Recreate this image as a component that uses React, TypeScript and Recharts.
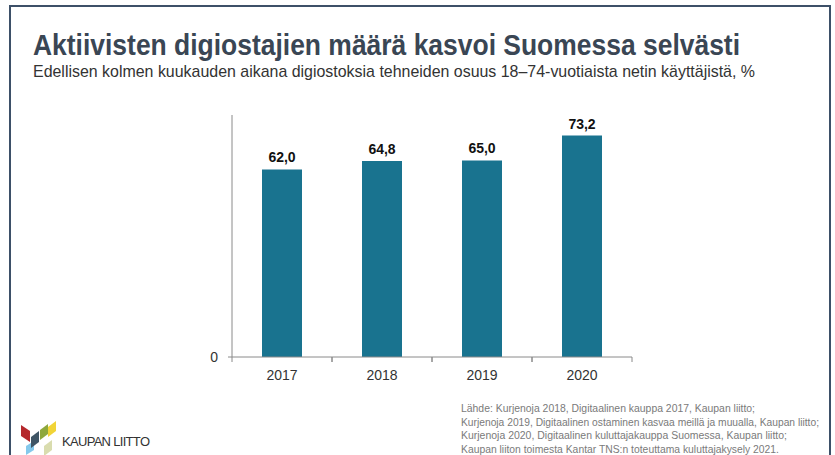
import { Bar, BarChart, LabelList, XAxis, YAxis } from "recharts";

const YEARS = ["2017", "2018", "2019", "2020"];
const SHARE = [62.0, 64.8, 65.0, 73.2];
const Y_TICKS = [0];

const TITLE = "Aktiivisten digiostajien määrä kasvoi Suomessa selvästi";
const SUBTITLE =
  "Edellisen kolmen kuukauden aikana digiostoksia tehneiden osuus 18–74-vuotiaista netin käyttäjistä, %";
const SOURCE_LINES = [
  "Lähde: Kurjenoja 2018, Digitaalinen kauppa 2017, Kaupan liitto;",
  "Kurjenoja 2019, Digitaalinen ostaminen kasvaa meillä ja muualla, Kaupan liitto;",
  "Kurjenoja 2020, Digitaalinen kuluttajakauppa Suomessa, Kaupan liitto;",
  "Kaupan liiton toimesta Kantar TNS:n toteuttama kuluttajakysely 2021.",
];
const SOURCE_WIDTHS = [294, 358, 326, 318];

const data = YEARS.map((year, i) => ({ year, share: SHARE[i] }));

const AXIS = "#8a8a8a";
const BAR = "#19738f";
const FONT = "'Liberation Sans', Arial, sans-serif";

// year label + small tick marks on the category edges (like the slide)
function YearTick(props: any) {
  const { x, y, payload } = props;
  const half = payload.offset ?? 0;
  return (
    <g>
      <line x1={x - half} x2={x - half} y1={y - 13} y2={y - 8} stroke={AXIS} />
      <line x1={x + half} x2={x + half} y1={y - 13} y2={y - 8} stroke={AXIS} />
      <text x={x} y={y} dy="0.71em" textAnchor="middle" fontSize={14} fill="#333">
        {payload.value}
      </text>
    </g>
  );
}

function Logo() {
  return (
    <g>
      <polygon points="21,425 30,431 30,442 21,436" fill="#b5282c" />
      <polygon points="26,446 34,441 34,450 26,455" fill="#84c9ec" />
      <polygon points="31,437 39,431 39,442 31,448" fill="#3f5565" />
      <polygon points="40,430 48,424 48,434 40,440" fill="#8ea83c" />
      <polygon points="48,427 56,421 56,431 48,437" fill="#f1d437" />
      <polygon points="44,446 52,440 52,450 44,456" fill="#d9dcae" />
      <text x={62} y={446} fontSize={13} fill="#333" fontFamily={FONT} textLength={88}>
        KAUPAN LIITTO
      </text>
    </g>
  );
}

export default function App() {
  return (
    <div style={{ position: "absolute", left: 0, top: 0, width: 835, height: 455, background: "#fff" }}>
      <BarChart
        width={835}
        height={455}
        data={data}
        margin={{ top: 115, right: 203, bottom: 68, left: 202 }}
        style={{ fontFamily: FONT }}
      >
        <XAxis
          dataKey="year"
          height={30}
          stroke={AXIS}
          tickLine={false}
          tickSize={6}
          tickMargin={7}
          tick={<YearTick />}
        />
        <YAxis
          width={30}
          domain={[0, 80]}
          ticks={Y_TICKS}
          tickSize={4}
          tickMargin={10}
          stroke={AXIS}
          tick={{ fontSize: 14, fill: "#333" }}
        />
        <Bar dataKey="share" fill={BAR} barSize={40} isAnimationActive={false}>
          <LabelList
            dataKey="share"
            position="top"
            offset={7}
            formatter={(v: number) => v.toFixed(1).replace(".", ",")}
            style={{ fontSize: 14, fontWeight: "bold", fill: "#111" }}
          />
        </Bar>
      </BarChart>
      <svg
        width={835}
        height={455}
        style={{ position: "absolute", left: 0, top: 0, pointerEvents: "none" }}
      >
        <path d="M10,460 V6 H830 V460" fill="none" stroke="#3d5068" strokeWidth={2} />
        <text
          x={33}
          y={55}
          fontSize={29}
          fontWeight="bold"
          fill="#3a4654"
          fontFamily={FONT}
          textLength={707}
          lengthAdjust="spacingAndGlyphs"
        >
          {TITLE}
        </text>
        <text
          x={33}
          y={77}
          fontSize={17}
          fill="#333"
          fontFamily={FONT}
          textLength={722}
          lengthAdjust="spacingAndGlyphs"
        >
          {SUBTITLE}
        </text>
        {SOURCE_LINES.map((line, i) => (
          <text
            key={i}
            x={461}
            y={412 + i * 13.5}
            fontSize={10.3}
            fill="#7a7a7a"
            fontFamily={FONT}
            textLength={SOURCE_WIDTHS[i]}
            lengthAdjust="spacingAndGlyphs"
          >
            {line}
          </text>
        ))}
        <Logo />
      </svg>
    </div>
  );
}
